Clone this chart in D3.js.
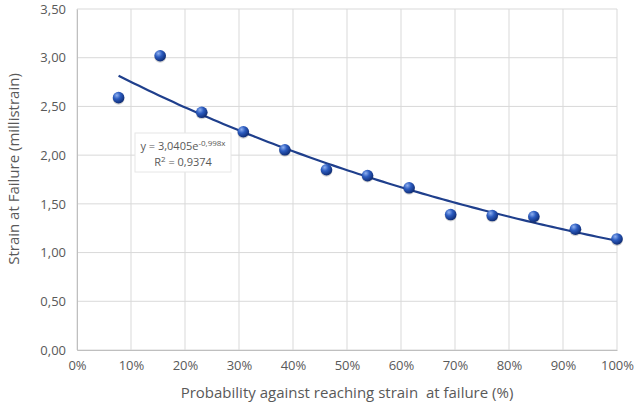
<!DOCTYPE html>
<html>
<head>
<meta charset="utf-8">
<script src="https://cdnjs.cloudflare.com/ajax/libs/d3/7.8.5/d3.min.js"></script>
<style>
  body { margin: 0; background: #fff; }
  text { font-family: "Open Sans", "Noto Sans", sans-serif; fill: #595959; white-space: pre; }
</style>
</head>
<body>
<div id="chart"></div>
<script>
// data
const probability = [0.077, 0.154, 0.231, 0.308, 0.385, 0.462, 0.538, 0.615, 0.692, 0.769, 0.846, 0.923, 1.0];
const strain = [2.59, 3.02, 2.44, 2.24, 2.055, 1.85, 1.79, 1.665, 1.39, 1.38, 1.37, 1.24, 1.14];
const yTicks = [0, 0.5, 1, 1.5, 2, 2.5, 3, 3.5];
const xTicks = [0, 0.1, 0.2, 0.3, 0.4, 0.5, 0.6, 0.7, 0.8, 0.9, 1.0];
// exponential trendline as printed on the chart
const fitA = 3.0405;
const fitB = -0.998;
const fitR2 = 0.9374;

const width = 638, height = 408;
const margin = { top: 9, right: 21, bottom: 58, left: 77 };
const graphWidth = width - margin.left - margin.right;
const graphHeight = height - margin.top - margin.bottom;

const svg = d3.select('#chart')
    .append('svg')
    .attr('width', width)
    .attr('height', height);

const defs = svg.append('defs');
const grad = defs.append('radialGradient')
    .attr('id', 'ball')
    .attr('cx', '35%').attr('cy', '30%').attr('r', '70%');
grad.append('stop').attr('offset', '0%').attr('stop-color', '#8fb0f0');
grad.append('stop').attr('offset', '45%').attr('stop-color', '#2c5cc0');
grad.append('stop').attr('offset', '100%').attr('stop-color', '#102e78');

const chart = svg.append('g')
    .attr('transform', `translate(${margin.left}, ${margin.top})`);

// scales
const x = d3.scaleLinear().domain([0, 1]).range([0, graphWidth]);
const y = d3.scaleLinear().domain([0, 3.5]).range([graphHeight, 0]);

// gridlines
chart.append('g')
    .selectAll('line.h')
    .data(yTicks)
    .enter().append('line')
    .attr('x1', 0).attr('x2', graphWidth)
    .attr('y1', d => y(d)).attr('y2', d => y(d))
    .attr('stroke', '#d9d9d9').attr('stroke-width', 1);

chart.append('g')
    .selectAll('line.v')
    .data(xTicks)
    .enter().append('line')
    .attr('y1', 0).attr('y2', graphHeight)
    .attr('x1', d => x(d)).attr('x2', d => x(d))
    .attr('stroke', '#d9d9d9').attr('stroke-width', 1);

// axes
const xAxis = d3.axisBottom(x)
    .tickValues(xTicks)
    .tickSize(0)
    .tickPadding(11)
    .tickFormat(d => Math.round(d * 100) + '%');

const yAxis = d3.axisLeft(y)
    .tickValues(yTicks)
    .tickSize(0)
    .tickPadding(11)
    .tickFormat(d => d.toFixed(2).replace('.', ','));

const xAxisGroup = chart.append('g')
    .attr('transform', `translate(0, ${graphHeight})`)
    .call(xAxis);
const yAxisGroup = chart.append('g').call(yAxis);

[xAxisGroup, yAxisGroup].forEach(g => {
    g.select('.domain').attr('stroke', '#bfbfbf');
    g.selectAll('text')
        .attr('font-size', 13)
        .attr('fill', '#595959')
        .attr('font-family', '"Open Sans", sans-serif');
});

// axis titles
svg.append('text')
    .attr('x', margin.left + graphWidth / 2)
    .attr('y', 398)
    .attr('text-anchor', 'middle')
    .attr('font-size', 15)
    .text('Probability against reaching strain  at failure (%)');

svg.append('text')
    .attr('transform', 'translate(19, 169) rotate(-90)')
    .attr('text-anchor', 'middle')
    .attr('font-size', 15)
    .text('Strain at Failure (millistrain)');

// trendline
const fitX = d3.range(0, 101).map(i => probability[0] + (1 - probability[0]) * i / 100);
const fitLine = d3.line()
    .x(d => x(d))
    .y(d => y(fitA * Math.exp(fitB * d)));

chart.append('path')
    .datum(fitX)
    .attr('d', fitLine)
    .attr('fill', 'none')
    .attr('stroke', '#1f3f8c')
    .attr('stroke-width', 2.2);

// points
chart.selectAll('circle')
    .data(probability)
    .enter()
    .append('circle')
    .attr('cx', d => x(d))
    .attr('cy', (d, i) => y(strain[i]) + 1)
    .attr('r', 6)
    .attr('fill', 'rgba(0,0,0,0.18)');

chart.selectAll('circle.pt')
    .data(probability)
    .enter()
    .append('circle')
    .attr('class', 'pt')
    .attr('cx', d => x(d))
    .attr('cy', (d, i) => y(strain[i]))
    .attr('r', 5.8)
    .attr('fill', 'url(#ball)');

// equation label
const label = svg.append('g').attr('transform', 'translate(135, 133)');
label.append('rect')
    .attr('width', 96).attr('height', 39)
    .attr('fill', '#fff')
    .attr('stroke', '#e6e6e6');

const eq = label.append('text')
    .attr('x', 48).attr('y', 17)
    .attr('text-anchor', 'middle')
    .attr('font-size', 11)
    .attr('fill', '#404040');
eq.append('tspan').text('y = ' + String(fitA).replace('.', ',') + 'e');
eq.append('tspan')
    .attr('font-size', 8)
    .attr('dy', -4)
    .text(String(fitB).replace('.', ',') + 'x');

const r2 = label.append('text')
    .attr('x', 48).attr('y', 33)
    .attr('text-anchor', 'middle')
    .attr('font-size', 11)
    .attr('fill', '#404040');
r2.append('tspan').text('R');
r2.append('tspan').attr('font-size', 8).attr('dy', -4).text('2');
r2.append('tspan').attr('dy', 4).text(' = ' + String(fitR2).replace('.', ','));
</script>
</body>
</html>
